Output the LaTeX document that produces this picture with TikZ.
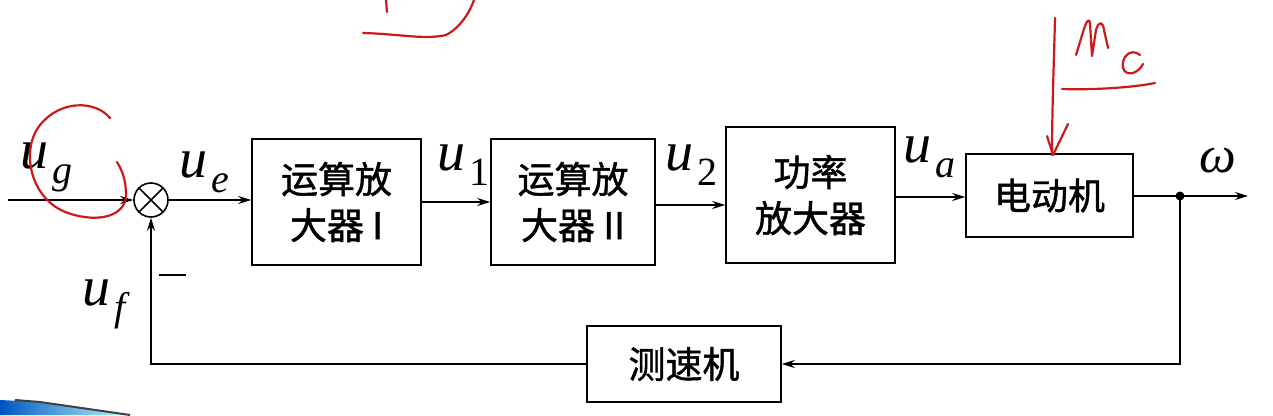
\documentclass[tikz,border=0pt]{standalone}
\usepackage{fontspec}
\setmainfont{Liberation Serif}
\newfontfamily\cjk{Noto Sans CJK SC}[FakeBold=1.2]
\usetikzlibrary{arrows.meta}
\definecolor{pen}{RGB}{205,25,25}
\newcommand\sig[2]{{\rmfamily\itshape\fontsize{56}{56}\selectfont #1\kern4pt\raisebox{-0.27em}{\fontsize{40}{40}\selectfont #2}}}
\tikzset{
  blk/.style={draw, line width=1.6pt, rectangle, align=center, font=\cjk\fontsize{37}{46}\selectfont, inner sep=0pt},
  con/.style={line width=1.6pt, -{Stealth[length=13pt,width=8pt]}},
  wire/.style={line width=1.6pt},
  redpen/.style={pen, line width=2.2pt, line cap=round, line join=round},
  lbl/.style={anchor=base west, inner sep=0pt}
}
\begin{document}
\begin{tikzpicture}[x=1pt,y=-1pt]
\useasboundingbox (0,0) rectangle (1273,415);
\fill[white] (0,0) rectangle (1273,415);
% slide corner decoration
\shade[left color=blue!55!cyan!75!black, right color=cyan!25] (0,400) -- (40,402) -- (132,415) -- (0,415) -- cycle;
\draw[line width=2pt, black!75] (15,400) -- (40,402) -- (130,415);
% blocks
\node[blk, minimum width=169, minimum height=126] (b1) at (336.5,202) {运算放\\大器 I};
\node[blk, minimum width=164, minimum height=126] (b2) at (573,202) {运算放\\大器 II};
\node[blk, minimum width=169, minimum height=136] (b3) at (810.5,195) {功率\\放大器};
\node[blk, minimum width=167, minimum height=83] (b4) at (1049.5,195.5) {电动机};
\node[blk, minimum width=194, minimum height=76] (b5) at (684,364) {测速机};
\node[draw, circle, line width=1.6pt, minimum size=34, inner sep=0pt] (sum) at (151,200) {};
\draw[wire] (sum.north east) -- (sum.south west) (sum.north west) -- (sum.south east);
\coordinate (in) at (8,200);
\coordinate (out) at (1248,196);
\coordinate (tap) at (1180,196);
% connectors
\draw[con] (in) -- (sum.west);
\draw[con] (sum.east) -- (sum.east -| b1.west);
\draw[con] (b1.east) -- (b1.east -| b2.west);
\draw[con] ([yshift=-3pt]b2.east) -- ([yshift=-3pt]b2.east -| b3.west);
\draw[con] ([yshift=-2pt]b3.east) -- ([yshift=-2pt]b3.east -| b4.west);
\draw[con] (b4.east |- out) -- (out);
\fill (tap) circle (4.5);
\draw[con] (tap) |- (b5.east);
\draw[con] (b5.west) -| (sum.south);
% labels
\node[lbl] (lg) at (20,168) {\sig{u}{g}};
\node[lbl] (le) at (179,177) {\sig{u}{e}};
\node[lbl] (l1) at (437,170) {\sig{u}{\upshape 1}};
\node[lbl] (l2) at (665,170) {\sig{u}{\upshape 2}};
\node[lbl] (la) at (903,162) {\sig{u}{a}};
\node[lbl] (lw) at (1199,172) {{\rmfamily\itshape\fontsize{52}{52}\selectfont ω}};
\node[lbl] (lf) at (82,305) {\sig{u}{f}};
\draw[line width=1.6pt] (159,275) -- (186,275);
% red handwritten annotations
\draw[redpen] (110,118) .. controls (95,100) and (60,100) .. (40,125)
  .. controls (20,150) and (30,200) .. (68,213)
  .. controls (100,224) and (126,215) .. (126,195)
  .. controls (126,180) and (122,170) .. (117,162);
\draw[redpen] (386,0) -- (387,12);
\draw[redpen] (363,33) .. controls (400,34) and (425,40) .. (446,35) .. controls (460,28) and (470,12) .. (474,0);
\draw[redpen] (1055,18) .. controls (1054,60) and (1052,110) .. (1052,155);
\draw[redpen] (1047,136) -- (1053,155) -- (1068,124);
\draw[redpen] (1076,55) -- (1083,32) .. controls (1086,22) and (1089,16) .. (1090,24) -- (1092,56)
  -- (1096,30) .. controls (1099,20) and (1103,22) .. (1104,30) -- (1108,48);
\draw[redpen] (1140,55) .. controls (1130,47) and (1121,58) .. (1123,68) .. controls (1126,77) and (1138,74) .. (1143,64);
\draw[redpen] (1062,89) .. controls (1090,90) and (1130,88) .. (1155,83);
\end{tikzpicture}
\end{document}
